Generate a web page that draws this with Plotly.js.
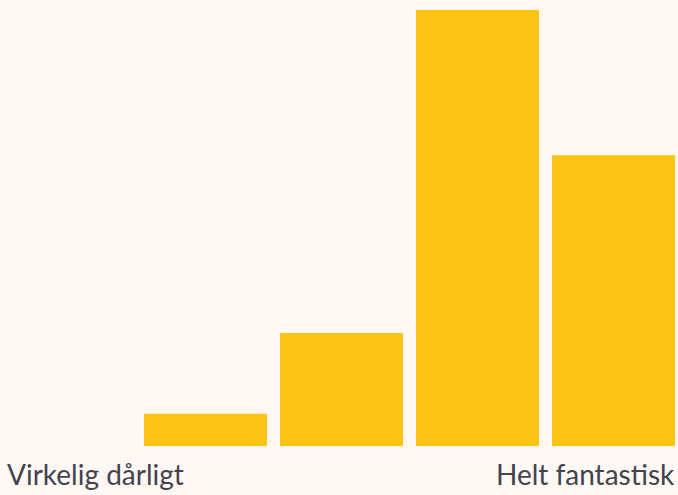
<!DOCTYPE html>
<html>
<head>
<meta charset="utf-8">
<script src="https://cdn.plot.ly/plotly-3.0.1.min.js"></script>
<style>
html,body{margin:0;padding:0;background:#fdf8f4;}
#chart{width:678px;height:495px;}
</style>
</head>
<body>
<div id="chart"></div>
<script>
const categories = [1, 2, 3, 4, 5];
const counts = [0, 2, 7, 27, 18];
const lowLabel = "Virkelig dårligt";
const highLabel = "Helt fantastisk";

const trace = {
  type: 'bar',
  x: categories,
  y: counts,
  marker: {color: '#fdc413'},
  hoverinfo: 'none'
};

const layout = {
  width: 678,
  height: 495,
  margin: {l: 0, r: 0, t: 10, b: 49, pad: 0},
  paper_bgcolor: '#fdf8f4',
  plot_bgcolor: '#fdf8f4',
  bargap: 0.096,
  showlegend: false,
  xaxis: {range: [0.489, 5.474], visible: false, fixedrange: true},
  yaxis: {range: [0, 27], visible: false, fixedrange: true},
  font: {family: 'Lato, "Open Sans", sans-serif', color: '#3c3b47'},
  annotations: [
    {text: lowLabel, xref: 'paper', yref: 'paper', x: 0, y: 0, xanchor: 'left', yanchor: 'top',
     xshift: 5, yshift: -9, showarrow: false, font: {size: 28, weight: 400, color: '#44434e'}},
    {text: highLabel, xref: 'paper', yref: 'paper', x: 1, y: 0, xanchor: 'right', yanchor: 'top',
     xshift: -1, yshift: -9, showarrow: false, font: {size: 28, weight: 400, color: '#44434e'}}
  ]
};

Plotly.newPlot('chart', [trace], layout, {displayModeBar: false, staticPlot: true});
</script>
</body>
</html>
